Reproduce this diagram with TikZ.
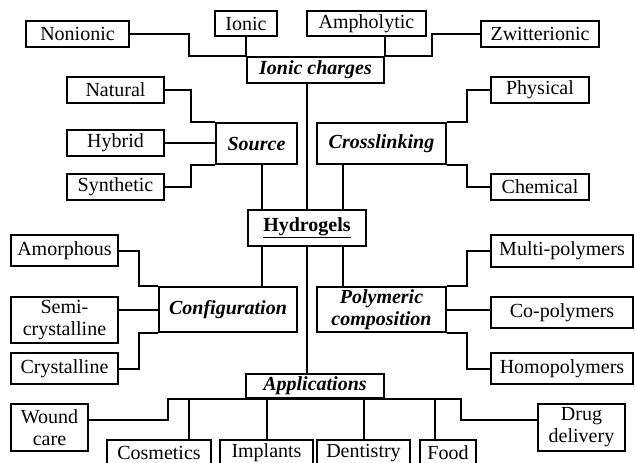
\documentclass[tikz,border=0pt]{standalone}
\usepackage{fontspec}
\setmainfont{Liberation Serif}
\tikzset{
  leaf/.style={draw, line width=2pt, inner sep=0pt, align=center, font=\fontsize{20}{22}\selectfont},
  group/.style={leaf, font=\fontsize{20}{22}\selectfont\bfseries\itshape},
  boxsize/.style 2 args={minimum width=#1pt, minimum height=#2pt},
  wire/.style={line width=2pt}
}

\begin{document}
\begin{tikzpicture}[x=1pt, y=-1pt]
\useasboundingbox (0,0) rectangle (635,463);

\node[leaf, boxsize={103}{26}] (nonionic) at (77.5,34) {Nonionic};
\node[leaf, boxsize={62}{25}] (ionic) at (246,23.5) {Ionic};
\node[leaf, boxsize={119}{25}] (ampholytic) at (366.5,23.5) {Ampholytic};
\node[leaf, boxsize={118}{26}] (zwitterionic) at (540,34) {Zwitterionic};
\node[group, boxsize={137}{26}] (charges) at (315.5,70) {Ionic charges};

\node[leaf, boxsize={97}{26}] (natural) at (115.5,90) {Natural};
\node[leaf, boxsize={97}{26}] (hybrid) at (115.5,143) {Hybrid};
\node[leaf, boxsize={97}{26}] (synthetic) at (115.5,187) {Synthetic};
\node[group, boxsize={81}{41}] (source) at (256.5,143.5) {Source};

\node[group, boxsize={129}{41}] (crosslinking) at (381.5,143.5) {Crosslinking};
\node[leaf, boxsize={98}{26}] (physical) at (540,90) {Physical};
\node[leaf, boxsize={98}{26}] (chemical) at (540,187) {Chemical};

\node[leaf, boxsize={118}{36}, font=\fontsize{20}{22}\selectfont\bfseries] (hydrogels) at (307,228) {\underline{Hydrogels}};

\node[leaf, boxsize={107}{31}] (amorphous) at (64.5,250.5) {Amorphous};
\node[leaf, boxsize={107}{46}] (semi) at (64.5,320) {Semi-\\crystalline};
\node[leaf, boxsize={107}{31}] (crystalline) at (64.5,368.5) {Crystalline};
\node[group, boxsize={138}{45}] (configuration) at (228,309.5) {Configuration};

\node[group, boxsize={129}{45}] (polymeric) at (381.5,309.5) {Polymeric\\composition};
\node[leaf, boxsize={142}{32}] (multi) at (562,251) {Multi-polymers};
\node[leaf, boxsize={142}{31}] (co) at (562,312.5) {Co-polymers};
\node[leaf, boxsize={142}{31}] (homo) at (562,368.5) {Homopolymers};

\node[group, boxsize={138}{24}] (applications) at (315,386) {Applications};
\node[leaf, boxsize={77}{47}] (wound) at (49.5,427.5) {Wound\\care};
\node[leaf, boxsize={104}{26}] (cosmetics) at (159,453) {Cosmetics};
\node[leaf, boxsize={93}{26}] (implants) at (266.5,453) {Implants};
\node[leaf, boxsize={93}{26}] (dentistry) at (363.5,453) {Dentistry};
\node[leaf, boxsize={56}{26}] (food) at (448,453) {Food};
\node[leaf, boxsize={87}{47}] (drug) at (581.5,427.5) {Drug\\delivery};

\draw[wire] (nonionic.east) -- ++(59,0) |- (charges.north west);
\draw[wire] (zwitterionic.west) -- ++(-48,0) |- (charges.north east);
\draw[wire] (ionic.south) -- (ionic.south |- charges.north);
\draw[wire] (charges.north east) -- (charges.north east |- ampholytic.south);
\draw[wire] (charges.south -| hydrogels.north) -- (hydrogels.north);

\draw[wire] (natural.east) -- ++(26,0) |- (source.north west);
\draw[wire] (hybrid.east) -- (hybrid.east -| source.west);
\draw[wire] (synthetic.east) -- ++(26,0) |- (source.south west);
\draw[wire] ([xshift=-45pt]hydrogels.north) -- ([xshift=-45pt]hydrogels.north |- source.south);

\draw[wire] (physical.west) -- ++(-23,0) |- (crosslinking.north east);
\draw[wire] (chemical.west) -- ++(-23,0) |- (crosslinking.south east);
\draw[wire] ([xshift=36pt]hydrogels.north) -- ([xshift=36pt]hydrogels.north |- crosslinking.south);

\draw[wire] (amorphous.east) -- ++(20,0) |- (configuration.north west);
\draw[wire] (configuration.west) -- (configuration.west -| semi.east);
\draw[wire] (crystalline.east) -- ++(20,0) |- (configuration.south west);
\draw[wire] ([xshift=-45pt]hydrogels.south) -- ([xshift=-45pt]hydrogels.south |- configuration.north);

\draw[wire] (multi.west) -- ++(-23,0) |- (polymeric.north east);
\draw[wire] (polymeric.east) -- (polymeric.east -| co.west);
\draw[wire] (homo.west) -- ++(-23,0) |- (polymeric.south east);
\draw[wire] ([xshift=36pt]hydrogels.south) -- ([xshift=36pt]hydrogels.south |- polymeric.north);

\draw[wire] (hydrogels.south) -- (hydrogels.south |- applications.north);
\draw[wire] ([yshift=8pt]wound.east) -- ++(79,0) |- (applications.south);
\draw[wire] ([yshift=8pt]drug.west) -- ++(-76,0) |- (applications.south);
\draw[wire] ([xshift=30pt]cosmetics.north) -- ([xshift=30pt]cosmetics.north |- applications.south);
\draw[wire] (implants.north) -- (implants.north |- applications.south);
\draw[wire] (dentistry.north) -- (dentistry.north |- applications.south);
\draw[wire] ([xshift=-13pt]food.north) -- ([xshift=-13pt]food.north |- applications.south);
\end{tikzpicture}
\end{document}
